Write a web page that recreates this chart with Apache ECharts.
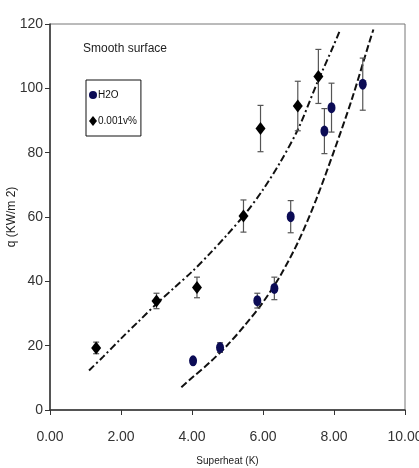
<!DOCTYPE html>
<html><head><meta charset="utf-8">
<script src="https://cdn.jsdelivr.net/npm/echarts@6/dist/echarts.min.js"></script>
<style>html,body{margin:0;padding:0;background:#fff}#c{width:419px;height:468px}</style>
</head><body><div id="c"></div>
<script>
// Data
const h2oX = [4.03, 4.79, 5.84, 6.32, 6.78, 7.73, 7.93, 8.81];
const h2oY = [15.3, 19.4, 34.0, 37.8, 60.1, 86.7, 94.0, 101.3];
const h2oErr = [0, 1.5, 2.3, 3.5, 5.0, 7.0, 7.6, 8.1];
const addX = [1.30, 3.00, 4.14, 5.45, 5.93, 6.98, 7.56];
const addY = [19.3, 33.9, 38.1, 60.3, 87.5, 94.5, 103.7];
const addErr = [1.8, 2.4, 3.2, 5.0, 7.2, 7.7, 8.4];
// fitted trend curves
const fitAddX = [1.1, 1.5, 2.0, 2.5, 3.0, 3.5, 4.0, 4.5, 5.0, 5.5, 6.0, 6.5, 7.0, 7.5, 8.0, 8.17];
const fitAddY = [12.3, 16.6, 22.2, 27.6, 33.0, 38.0, 43.0, 48.6, 54.6, 61.0, 68.5, 77.3, 87.6, 101.0, 113.6, 118.1];
const fitH2oX = [3.7, 4.0, 4.5, 5.0, 5.5, 6.0, 6.5, 7.0, 7.5, 8.0, 8.5, 9.0, 9.11];
const fitH2oY = [7.1, 10.0, 14.8, 20.2, 26.5, 33.5, 42.0, 52.5, 65.5, 80.5, 96.5, 114.5, 118.3];
const xTicks = [0, 2, 4, 6, 8, 10];
const yTicks = [0, 20, 40, 60, 80, 100, 120];
const seriesNames = ['H2O', '0.001v%'];

const FONT = '"Liberation Sans Narrow","Arial Narrow","Liberation Sans",Arial,sans-serif';
const pair = (xs, ys) => xs.map((x, i) => [x, ys[i]]);
const errData = (xs, ys, es) => xs.map((x, i) => [x, ys[i] - es[i], ys[i] + es[i]]);

function errRender(params, api) {
  const x = api.value(0), lo = api.value(1), hi = api.value(2);
  if (hi - lo < 0.5) return null;
  const p1 = api.coord([x, lo]), p2 = api.coord([x, hi]);
  const w = 3;
  const st = {stroke: '#555', lineWidth: 1.2};
  return {type: 'group', children: [
    {type: 'line', shape: {x1: p1[0], y1: p1[1], x2: p2[0], y2: p2[1]}, style: st},
    {type: 'line', shape: {x1: p1[0]-w, y1: p1[1], x2: p1[0]+w, y2: p1[1]}, style: st},
    {type: 'line', shape: {x1: p2[0]-w, y1: p2[1], x2: p2[0]+w, y2: p2[1]}, style: st}
  ]};
}

const chart = echarts.init(document.getElementById('c'), null, {renderer: 'canvas'});
chart.setOption({
  animation: false,
  backgroundColor: '#fff',
  textStyle: {fontFamily: FONT},
  title: {text: 'Smooth surface', left: 83, top: 43, padding: 0,
    textStyle: {fontSize: 12, fontWeight: 'normal', color: '#222', fontFamily: FONT}},
  legend: {
    data: seriesNames, orient: 'vertical', left: 86, top: 80,
    borderColor: '#111', borderWidth: 1,
    padding: [10, 4, 10, 3], itemGap: 16, itemWidth: 8, itemHeight: 10,
    textStyle: {fontSize: 10, color: '#111', fontFamily: FONT, padding: [0, 0, 0, -4]}
  },
  grid: {left: 50, right: 14, top: 24, bottom: 58, outerBoundsMode: 'none', containLabel: false,
    show: true, borderColor: '#777', borderWidth: 1},
  xAxis: {
    type: 'value', min: 0, max: 10, interval: 2,
    name: 'Superheat (K)', nameLocation: 'middle', nameGap: 46, nameMoveOverlap: false,
    nameTextStyle: {fontSize: 10, color: '#222', fontFamily: FONT},
    axisLine: {onZero: false, lineStyle: {color: '#333', width: 1.5}},
    axisTick: {show: true, length: 5, lineStyle: {color: '#333'}},
    axisLabel: {formatter: v => v.toFixed(2), fontSize: 14, color: '#333', margin: 20, fontFamily: FONT},
    splitLine: {show: false}
  },
  yAxis: {
    type: 'value', min: 0, max: 120, interval: 20,
    name: 'q (KW/m 2)', nameLocation: 'middle', nameGap: 32, nameRotate: 90, nameMoveOverlap: false,
    nameTextStyle: {fontSize: 12, color: '#222', fontFamily: FONT},
    axisLine: {onZero: false, lineStyle: {color: '#333', width: 1.5}},
    axisTick: {show: true, length: 5, lineStyle: {color: '#333'}},
    axisLabel: {fontSize: 14, color: '#333', margin: 7, fontFamily: FONT},
    splitLine: {show: false}
  },
  series: [
    {name: 'fitAdd', type: 'line', data: pair(fitAddX, fitAddY), smooth: 0.3, showSymbol: false,
      lineStyle: {color: '#111', width: 2, type: [7, 3, 2, 3]}, z: 2, silent: true},
    {name: 'fitH2o', type: 'line', data: pair(fitH2oX, fitH2oY), smooth: 0.3, showSymbol: false,
      lineStyle: {color: '#111', width: 2, type: [7, 3]}, z: 2, silent: true},
    {name: 'errH2o', type: 'custom', renderItem: errRender, data: errData(h2oX, h2oY, h2oErr), z: 3},
    {name: 'errAdd', type: 'custom', renderItem: errRender, data: errData(addX, addY, addErr), z: 3},
    {name: 'H2O', type: 'scatter', data: pair(h2oX, h2oY), symbol: 'circle', symbolSize: [8, 11],
      itemStyle: {color: '#0b0b55', opacity: 1}, z: 4},
    {name: '0.001v%', type: 'scatter', data: pair(addX, addY), symbol: 'diamond', symbolSize: [10, 13],
      itemStyle: {color: '#000', opacity: 1}, z: 4}
  ]
});
</script></body></html>
